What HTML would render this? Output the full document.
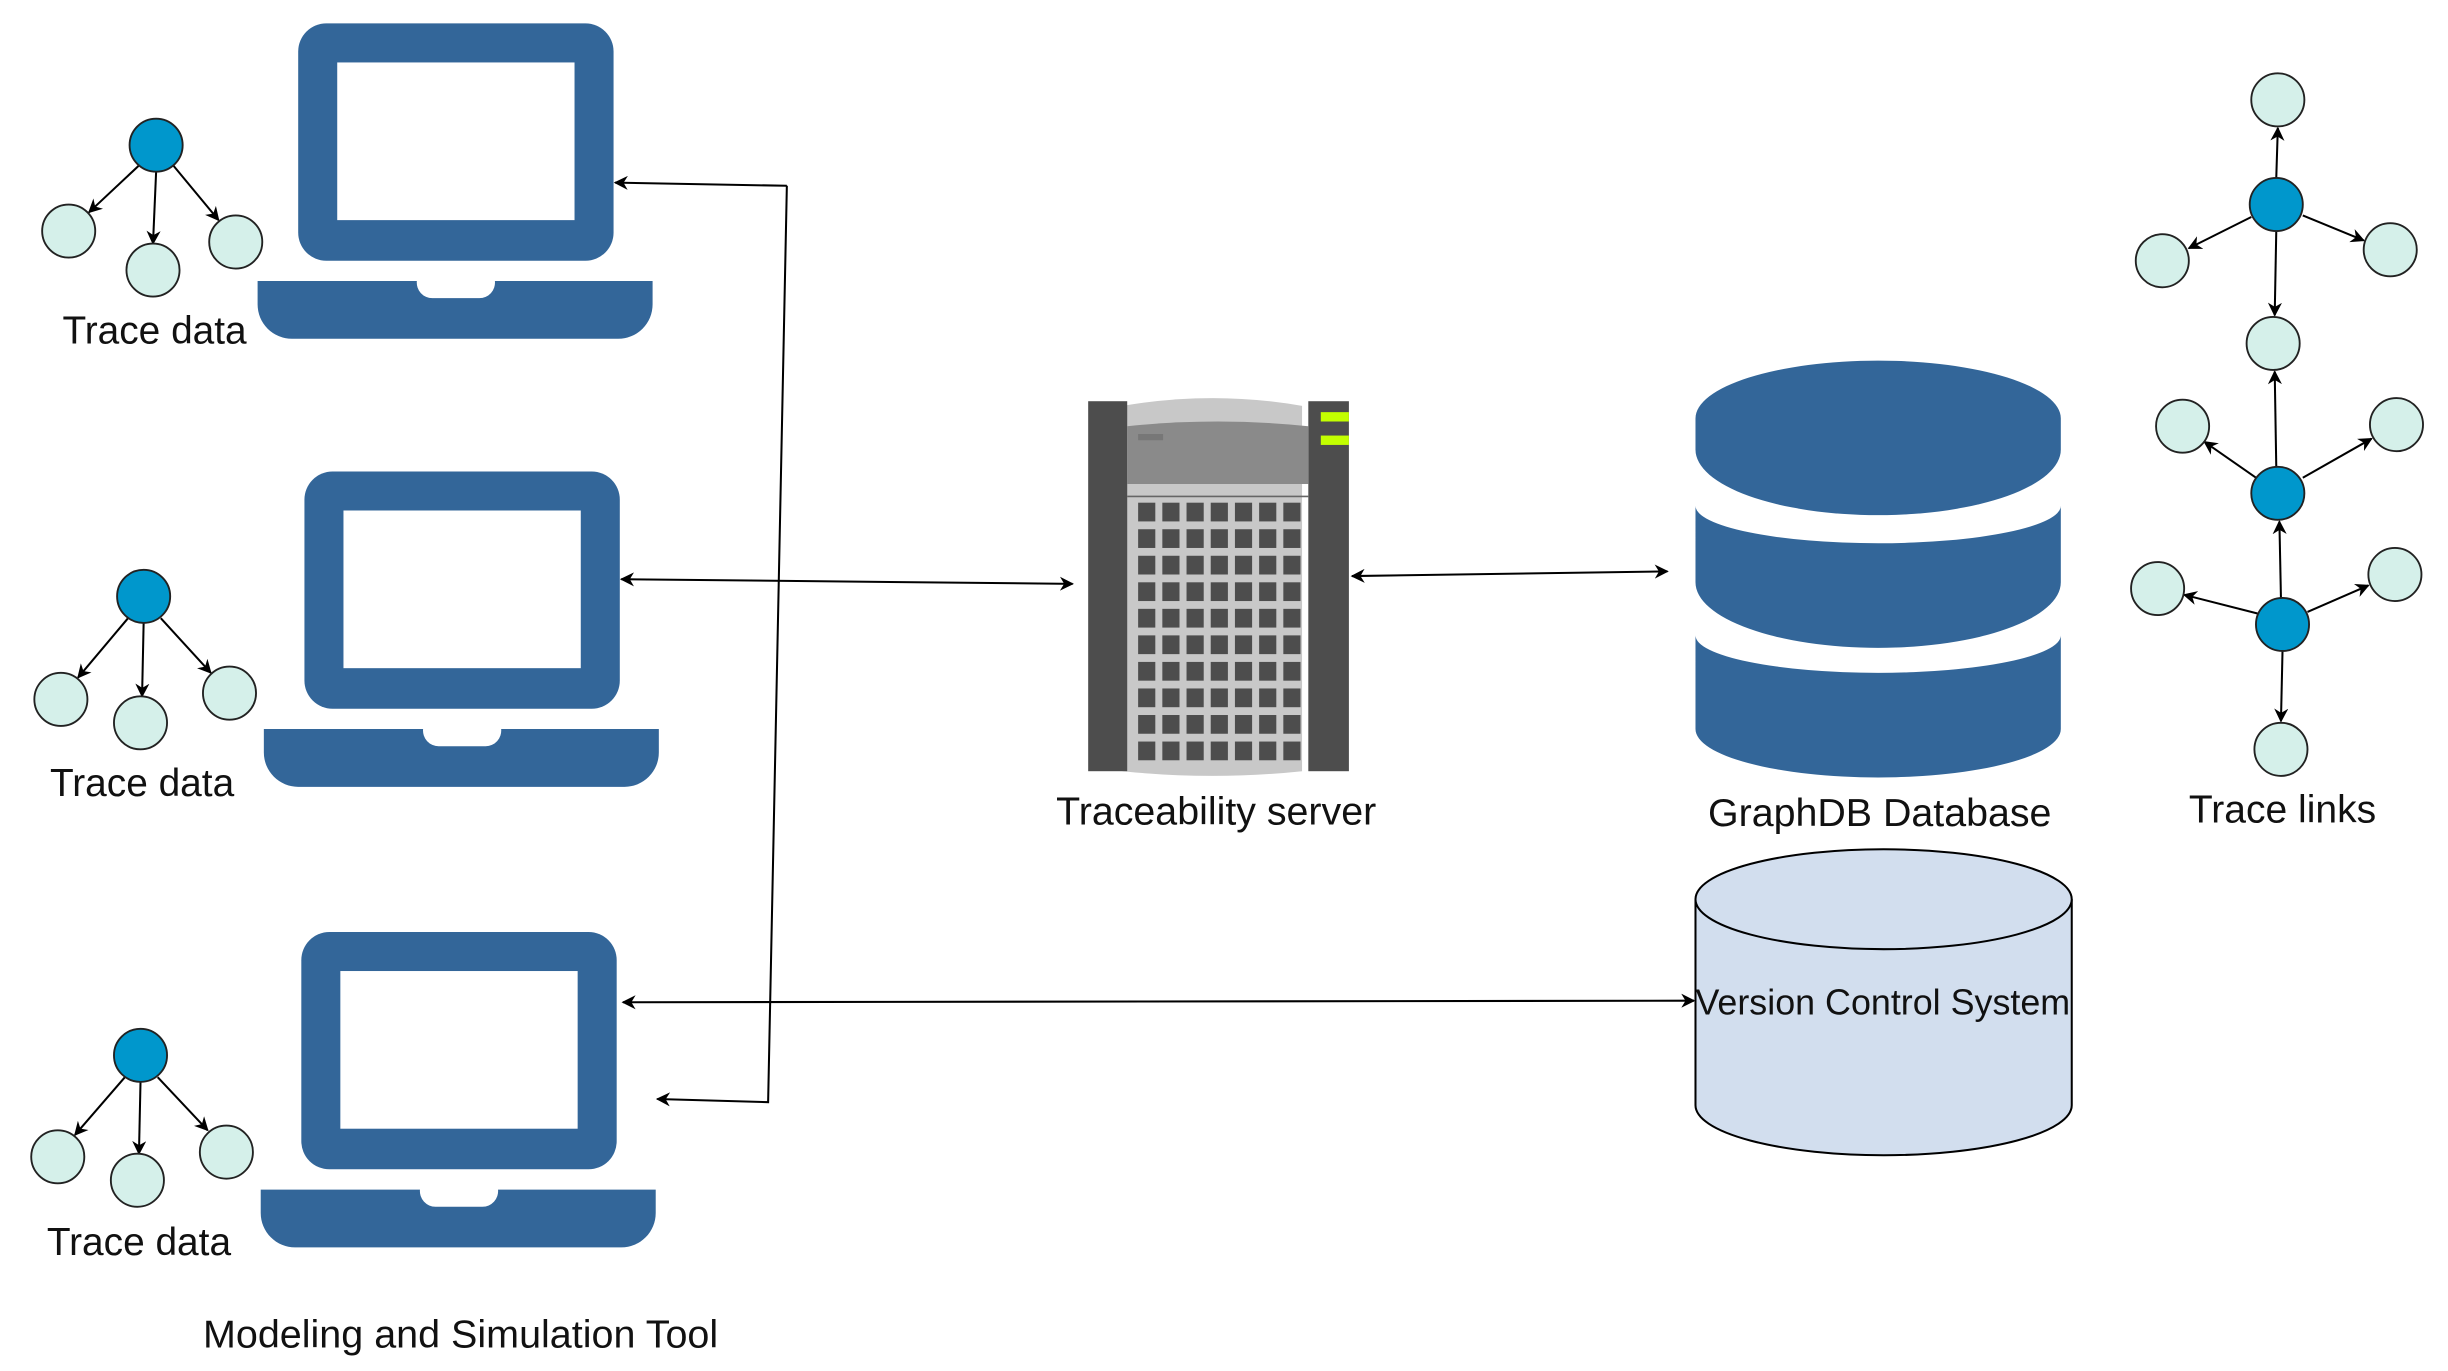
<!DOCTYPE html>
<html><head><meta charset="utf-8"><style>html,body{margin:0;padding:0;background:#fff}svg{display:block}</style></head>
<body>
<svg width="2448" height="1371" viewBox="0 0 1568 878.2" preserveAspectRatio="none" xmlns="http://www.w3.org/2000/svg" font-family="Liberation Sans, sans-serif">
<defs>
<marker id="a" viewBox="0 0 10 10" refX="9" refY="5" markerWidth="9" markerHeight="9" orient="auto-start-reverse" markerUnits="userSpaceOnUse">
<path d="M0,0 L10,5 L0,10 L3,5 z" fill="#000"/></marker>
<g id="lap">
<rect x="0" y="0" width="202" height="152" rx="18" fill="#336699"/>
<rect x="25" y="25" width="152" height="101" fill="#fff"/>
<path d="M-26,165 H76 A10,10 0 0 0 86,176 H116 A10,10 0 0 0 126,165 H227 V180 A22,22 0 0 1 205,202 H-4 A22,22 0 0 1 -26,180 Z" fill="#336699"/>
</g>
</defs>
<rect width="1568" height="879" fill="#fff"/>
<use href="#lap" x="191" y="15"/>
<use href="#lap" x="195" y="302"/>
<use href="#lap" x="193" y="597"/>

<g stroke="#000" stroke-width="1.3" fill="none">
<line x1="89" y1="106" x2="57" y2="136" marker-end="url(#a)"/>
<line x1="100" y1="110" x2="98" y2="156" marker-end="url(#a)"/>
<line x1="111" y1="106" x2="140" y2="141" marker-end="url(#a)"/>
<line x1="82" y1="396" x2="50" y2="434" marker-end="url(#a)"/>
<line x1="92" y1="399" x2="91" y2="446" marker-end="url(#a)"/>
<line x1="103" y1="396" x2="135" y2="431" marker-end="url(#a)"/>
<line x1="80" y1="690" x2="48" y2="727" marker-end="url(#a)"/>
<line x1="90" y1="693" x2="89" y2="739" marker-end="url(#a)"/>
<line x1="101" y1="690" x2="133" y2="724" marker-end="url(#a)"/>
<polyline points="504,119 492,706 421,704" marker-end="url(#a)"/>
<line x1="504" y1="119" x2="394" y2="117" marker-end="url(#a)"/>
<line x1="398" y1="371" x2="687" y2="374" marker-start="url(#a)" marker-end="url(#a)"/>
<line x1="866" y1="369" x2="1068" y2="366" marker-start="url(#a)" marker-end="url(#a)"/>
<line x1="399" y1="642" x2="1085" y2="641" marker-start="url(#a)" marker-end="url(#a)"/>
<line x1="1458" y1="114" x2="1459" y2="82" marker-end="url(#a)"/>
<line x1="1442" y1="139" x2="1402" y2="159" marker-end="url(#a)"/>
<line x1="1475" y1="138" x2="1514" y2="154" marker-end="url(#a)"/>
<line x1="1458" y1="148" x2="1457" y2="202" marker-end="url(#a)"/>
<line x1="1458" y1="299" x2="1457" y2="238" marker-end="url(#a)"/>
<line x1="1445" y1="306" x2="1412" y2="283" marker-end="url(#a)"/>
<line x1="1475" y1="306" x2="1519" y2="281" marker-end="url(#a)"/>
<line x1="1461" y1="383" x2="1460" y2="334" marker-end="url(#a)"/>
<line x1="1446" y1="393" x2="1399" y2="381" marker-end="url(#a)"/>
<line x1="1478" y1="392" x2="1517" y2="375" marker-end="url(#a)"/>
<line x1="1462" y1="417" x2="1461" y2="462" marker-end="url(#a)"/>
</g>

<g stroke="#222" stroke-width="1.2">
<g fill="#0097CC">
<circle cx="100" cy="93" r="17"/><circle cx="92" cy="382" r="17"/><circle cx="90" cy="676" r="17"/>
<circle cx="1458" cy="131" r="17"/><circle cx="1459" cy="316" r="17"/><circle cx="1462" cy="400" r="17"/>
</g>
<g fill="#D5F0EA">
<circle cx="44" cy="148" r="17"/><circle cx="98" cy="173" r="17"/><circle cx="151" cy="155" r="17"/>
<circle cx="39" cy="448" r="17"/><circle cx="90" cy="463" r="17"/><circle cx="147" cy="444" r="17"/>
<circle cx="37" cy="741" r="17"/><circle cx="88" cy="756" r="17"/><circle cx="145" cy="738" r="17"/>
<circle cx="1459" cy="64" r="17"/><circle cx="1385" cy="167" r="17"/><circle cx="1531" cy="160" r="17"/>
<circle cx="1456" cy="220" r="17"/><circle cx="1398" cy="273" r="17"/><circle cx="1535" cy="272" r="17"/>
<circle cx="1382" cy="377" r="17"/><circle cx="1534" cy="368" r="17"/><circle cx="1461" cy="480" r="17"/>
</g>
</g>

<g>
<path d="M719,260 Q777,250 834,260 V494 Q777,500 719,494 Z" fill="#c8c8c8"/>
<rect x="697" y="257" width="25" height="237" fill="#4d4d4d"/>
<rect x="838" y="257" width="26" height="237" fill="#4d4d4d"/>
<path d="M722,273 Q780,267 838,273 V310 H722 Z" fill="#8a8a8a"/>
<rect x="729" y="278" width="16" height="4" fill="#777"/>
<line x1="722" y1="318" x2="838" y2="318" stroke="#666" stroke-width="1"/>
<rect x="846" y="264" width="18" height="6" fill="#c3ff00"/>
<rect x="846" y="279" width="18" height="6" fill="#c3ff00"/>
<g fill="#4d4d4d" id="row">
<rect x="729" y="322" width="11" height="12"/><rect x="744.5" y="322" width="11" height="12"/><rect x="760" y="322" width="11" height="12"/><rect x="775.5" y="322" width="11" height="12"/><rect x="791" y="322" width="11" height="12"/><rect x="806.5" y="322" width="11" height="12"/><rect x="822" y="322" width="11" height="12"/>
</g>
<use href="#row" y="17"/><use href="#row" y="34"/><use href="#row" y="51"/><use href="#row" y="68"/><use href="#row" y="85"/><use href="#row" y="102"/><use href="#row" y="119"/><use href="#row" y="136"/><use href="#row" y="153"/>
</g>

<g fill="#336699">
<path d="M1086,268 A117,37 0 0 1 1320,268 L1320,288 A117,42 0 0 1 1086,288 Z"/>
<path d="M1086,324 A117,24 0 0 0 1320,324 L1320,373 A117,42 0 0 1 1086,373 Z"/>
<path d="M1086,407 A117,24 0 0 0 1320,407 L1320,467 A117,31 0 0 1 1086,467 Z"/>
</g>

<path d="M1086,576 V708 A120.5,32 0 0 0 1327,708 V576" fill="#D2DEEE" stroke="#000" stroke-width="1.3"/>
<ellipse cx="1206.5" cy="576" rx="120.5" ry="32" fill="#D2DEEE" stroke="#000" stroke-width="1.3"/>

<g font-size="25" fill="#111" text-anchor="middle" lengthAdjust="spacingAndGlyphs">
<text x="99" y="220" textLength="118" lengthAdjust="spacingAndGlyphs">Trace data</text>
<text x="91" y="510" textLength="118" lengthAdjust="spacingAndGlyphs">Trace data</text>
<text x="89" y="804" textLength="118" lengthAdjust="spacingAndGlyphs">Trace data</text>
<text x="779" y="528" textLength="205" lengthAdjust="spacingAndGlyphs">Traceability server</text>
<text x="1204" y="529" textLength="220" lengthAdjust="spacingAndGlyphs">GraphDB Database</text>
<text x="1462" y="527" textLength="120" lengthAdjust="spacingAndGlyphs">Trace links</text>
<text x="295" y="863" textLength="330" lengthAdjust="spacingAndGlyphs">Modeling and Simulation Tool</text>
<text x="1206" y="650" font-size="23" textLength="240" lengthAdjust="spacingAndGlyphs">Version Control System</text>
</g>
</svg>
</body></html>
